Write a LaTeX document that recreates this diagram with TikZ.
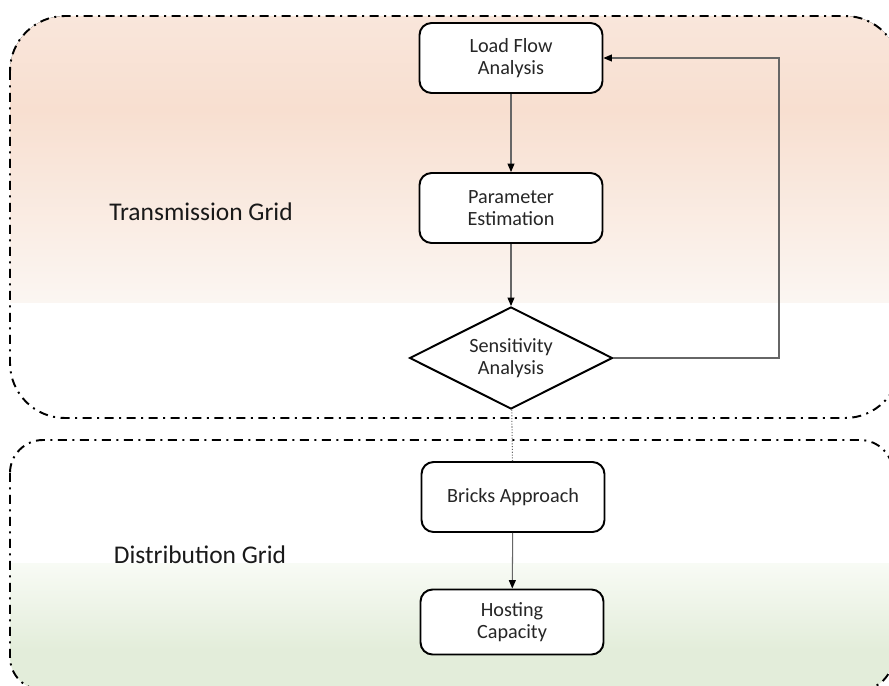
\documentclass[tikz,border=0pt]{standalone}
\usepackage{fontspec}
\setmainfont{Carlito}
\usetikzlibrary{arrows.meta}
\usetikzlibrary{shapes.geometric}

\definecolor{peachtop}{RGB}{249,230,219}
\definecolor{peach}{RGB}{248,223,208}
\definecolor{peachfade}{RGB}{251,246,242}
\definecolor{greenlight}{RGB}{248,251,245}
\definecolor{green}{RGB}{227,237,218}

\tikzset{
  stepbox/.style={draw, line width=1.1pt, rounded corners=0.24cm, fill=white,
    align=center, minimum width=3.66cm, minimum height=1.4cm,
    font=\fontsize{11.5}{12.8}\selectfont, text=black!85},
  decision/.style={diamond, aspect=2, draw, line width=1.1pt, fill=white,
    inner sep=0pt, minimum width=4.06cm, minimum height=2.04cm,
    align=center, font=\fontsize{11.5}{12.8}\selectfont, text=black!85},
  gridline/.style={line width=1.1pt,
    dash pattern=on 0.18cm off 0.11cm on 0.04cm off 0.11cm},
  gridlabel/.style={font=\fontsize{14.5}{17}\selectfont, text=black!90},
  flow/.style={draw=black!60, line width=0.6pt},
}

\begin{document}
\begin{tikzpicture}[x=0.02cm, y=-0.02cm,
    >={Triangle[length=0.17cm, width=0.14cm, color=black]}]
    \useasboundingbox (0,0) rectangle (889,686);

    % transmission area, peach fading out
    \begin{scope}
      \clip[rounded corners=1.1cm] (10,16) rectangle (900,418);
      \fill[top color=peachtop, bottom color=peach] (10,16) rectangle (900,110);
      \fill[top color=peach, bottom color=peachfade] (10,110) rectangle (900,303);
      \fill[white] (10,303) rectangle (900,418);
    \end{scope}

    % distribution area, green coming in
    \begin{scope}
      \clip[rounded corners=0.66cm] (10,440) rectangle (893,690);
      \fill[white] (10,440) rectangle (893,563);
      \fill[top color=greenlight, bottom color=green] (10,563) rectangle (893,650);
      \fill[green] (10,650) rectangle (893,690);
    \end{scope}

    \draw[gridline, rounded corners=1.1cm] (10,16) rectangle (900,418);
    \draw[gridline, rounded corners=0.66cm] (10,440) rectangle (893,690);

    \node[gridlabel] (trans) at (201,212) {Transmission Grid};
    \node[gridlabel] (dist) at (200,555) {Distribution Grid};

    \node[stepbox] (load) at (511,58) {Load Flow\\Analysis};
    \node[stepbox] (param) at (511,208) {Parameter\\Estimation};
    \node[decision] (sens) at (511,358) {Sensitivity\\Analysis};
    \node[stepbox] (bricks) at (513,497) {Bricks Approach};
    \node[stepbox, minimum height=1.3cm] (host) at (512,622) {Hosting\\Capacity};

    \path[flow,->] (load) edge (param);
    \path[flow,->] (param) edge (sens);
    \path[flow,->] (bricks) edge (host);
    \path[flow,densely dotted] (sens) edge (bricks);

    % loop back to the load flow
    \coordinate (back) at (779,58);
    \draw[flow,->] (sens.east) -| (back) -- (load.east);
  \end{tikzpicture}
\end{document}
